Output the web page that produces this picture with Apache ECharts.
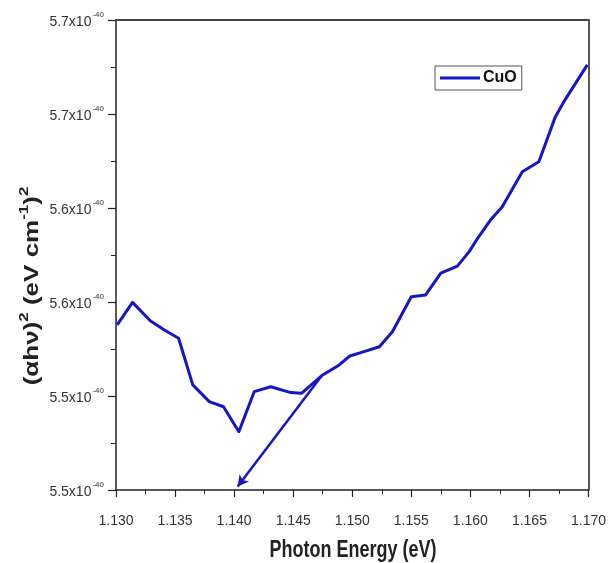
<!DOCTYPE html>
<html><head><meta charset="utf-8">
<script src="https://cdn.jsdelivr.net/npm/echarts@6/dist/echarts.min.js"></script>
<style>html,body{margin:0;padding:0;background:#fff}#c{width:609px;height:563px}</style>
</head><body><div id="c"></div><script>
// Photon energy (eV)
const photonEnergy = [1.1301, 1.1314, 1.1329, 1.1341, 1.1353, 1.1365, 1.1379, 1.1391, 1.1404, 1.1417, 1.1431, 1.1448, 1.1457, 1.1475, 1.1489, 1.1498, 1.1510, 1.1523, 1.1534, 1.1550, 1.1562, 1.1575, 1.1589, 1.1599, 1.1607, 1.1617, 1.1627, 1.1644, 1.1658, 1.1672, 1.1680, 1.1699];
// (alpha h nu)^2 in units of 1e-40 (eV cm^-1)^2
const absorption = [5.5678, 5.5798, 5.5700, 5.5651, 5.5607, 5.5359, 5.5270, 5.5243, 5.5110, 5.5323, 5.5349, 5.5318, 5.5314, 5.5412, 5.5465, 5.5513, 5.5536, 5.5562, 5.5642, 5.5828, 5.5837, 5.5953, 5.5991, 5.6068, 5.6147, 5.6236, 5.6307, 5.6493, 5.6546, 5.6786, 5.6874, 5.7061];
// tangent (extrapolation) arrow: start on curve, end near axis
const tangentX = [1.1474, 1.1403];
const tangentY = [5.5406, 5.4818];
// y tick labels as printed (mantissa of x10^-40), bottom to top
const yTickLabels = ['5.5', '5.5', '5.6', '5.6', '5.7', '5.7'];
const yBase = 5.48, yStep = 0.05;

const toAxis = v => (v - yBase) / yStep;
const lineData = photonEnergy.map((x, i) => [x, toAxis(absorption[i])]);

const chart = echarts.init(document.getElementById('c'));
const axisColor = '#222';
const blue = '#1616c8';
chart.setOption({
  animation: false,
  backgroundColor: '#fff',
  grid: { left: 116, right: 20, top: 20, bottom: 73 },
  legend: {
    left: 435, top: 66,
    padding: [4, 5],
    borderColor: '#555', borderWidth: 1,
    itemWidth: 40, itemHeight: 3, itemGap: 5,
    textStyle: { fontFamily: 'Liberation Sans, Arial', fontWeight: 'bold', fontSize: 16, color: '#111', padding: [0, 0, 0, -2] },
    data: [{ name: 'CuO', icon: 'rect', itemStyle: { color: blue } }]
  },
  xAxis: [{
    type: 'value', min: 1.13, max: 1.17, interval: 0.005,
    axisLine: { lineStyle: { color: axisColor, width: 1.5 } },
    axisTick: { inside: false, length: 7, lineStyle: { color: axisColor, width: 1.2 } },
    minorTick: { show: true, splitNumber: 2, length: 4, lineStyle: { color: axisColor, width: 1 } },
    splitLine: { show: false },
    axisLabel: { margin: 24, fontFamily: 'Liberation Sans, Arial', fontSize: 14, color: '#333', formatter: v => v.toFixed(3) }
  }, {
    type: 'value', position: 'top', min: 1.13, max: 1.17,
    axisLine: { show: true, onZero: false, lineStyle: { color: '#444', width: 2 } },
    axisTick: { show: false }, axisLabel: { show: false }, splitLine: { show: false }
  }],
  yAxis: [{
    type: 'value', min: 0, max: 5, interval: 1,
    axisLine: { show: true, lineStyle: { color: axisColor, width: 1.5 } },
    axisTick: { show: true, inside: false, length: 8, lineStyle: { color: axisColor, width: 1.2 } },
    minorTick: { show: true, splitNumber: 2, length: 5, lineStyle: { color: axisColor, width: 1 } },
    splitLine: { show: false },
    axisLabel: {
      margin: 12,
      formatter: v => '{m|' + yTickLabels[Math.round(v)] + 'x10}{s|-40}',
      rich: {
        m: { fontFamily: 'Liberation Sans, Arial', fontSize: 14, color: '#333', lineHeight: 18, verticalAlign: 'bottom' },
        s: { fontFamily: 'Liberation Sans, Arial', fontSize: 8, color: '#333', lineHeight: 18, verticalAlign: 'top', padding: [0, 0, 0, 1] }
      }
    }
  }, {
    type: 'value', position: 'right', min: 0, max: 5,
    axisLine: { show: true, onZero: false, lineStyle: { color: axisColor, width: 1.5 } },
    axisTick: { show: false }, axisLabel: { show: false }, splitLine: { show: false }
  }],
  series: [{
    name: 'CuO', type: 'line', data: lineData,
    symbol: 'none', color: blue,
    lineStyle: { width: 3, color: blue, join: 'round' },
    markLine: {
      silent: true, animation: false,
      symbol: ['none', 'arrow'], symbolSize: [9, 11],
      label: { show: false },
      lineStyle: { color: blue, width: 2.5, type: 'solid' },
      data: [[
        { coord: [tangentX[0], toAxis(tangentY[0])] },
        { coord: [tangentX[1], toAxis(tangentY[1])] }
      ]]
    }
  }],
  graphic: [{
    type: 'text', x: 353, y: 551, scaleY: 1.3,
    style: {
      text: 'Photon Energy (eV)', align: 'center', verticalAlign: 'middle',
      font: 'bold 18px "Liberation Sans", Arial', fill: '#222'
    }
  }, {
    type: 'text', x: 30, y: 286, rotation: Math.PI / 2, scaleX: 1.3,
    style: {
      text: '{t|(αhν)}{s|2}{t| (eV cm}{s|-1}{t|)}{s|2}', align: 'center', verticalAlign: 'middle',
      rich: {
        t: { font: 'bold 20px "Liberation Sans", Arial', fill: '#222', lineHeight: 24, verticalAlign: 'bottom' },
        s: { font: 'bold 13px "Liberation Sans", Arial', fill: '#222', lineHeight: 24, verticalAlign: 'top' }
      }
    }
  }]
});
</script></body></html>
